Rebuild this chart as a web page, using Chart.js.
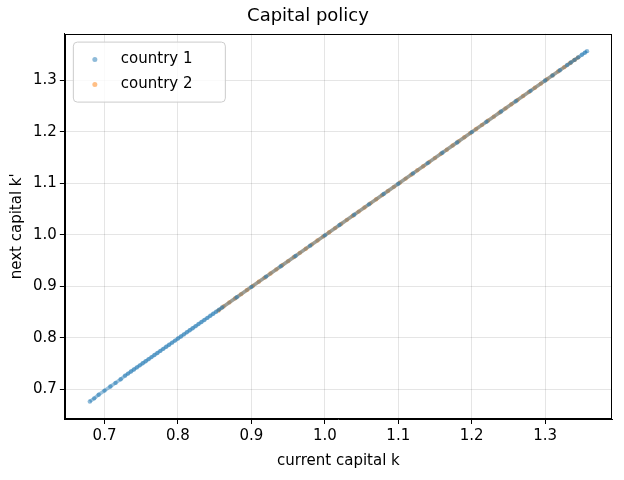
<!DOCTYPE html>
<html><head><meta charset="utf-8">
<script src="https://cdn.jsdelivr.net/npm/chart.js@4/dist/chart.umd.min.js"></script>
<style>html,body{margin:0;background:#fff}#w{width:624px;height:480px}</style>
</head><body><div id="w"><canvas id="c"></canvas></div>
<script>
const chartTitle = "Capital policy";
const xLabel = "current capital k";
const yLabel = "next capital k'";
const seriesNames = ["country 1", "country 2"];
const k1 = [0.680,0.686,0.692,0.700,0.708,0.715,0.722,0.728,0.732,0.736,0.740,0.744,0.748,0.752,0.756,0.760,0.764,0.768,0.772,0.776,0.780,0.784,0.788,0.792,0.796,0.800,0.804,0.808,0.812,0.816,0.820,0.824,0.828,0.832,0.836,0.840,0.844,0.848,0.852,0.856,0.860,0.880,0.900,0.920,0.940,0.960,0.980,1.000,1.020,1.040,1.060,1.080,1.100,1.120,1.140,1.160,1.180,1.200,1.220,1.240,1.260,1.280,1.300,1.310,1.320,1.330,1.335,1.340,1.345,1.350,1.354,1.357];
const kp1 = [0.677,0.683,0.690,0.698,0.706,0.713,0.720,0.727,0.731,0.735,0.739,0.743,0.747,0.751,0.755,0.759,0.763,0.767,0.771,0.775,0.779,0.783,0.787,0.791,0.795,0.799,0.803,0.807,0.811,0.815,0.819,0.823,0.827,0.831,0.835,0.839,0.843,0.847,0.851,0.855,0.859,0.879,0.899,0.919,0.939,0.959,0.979,0.999,1.019,1.039,1.059,1.079,1.099,1.119,1.139,1.159,1.179,1.199,1.219,1.239,1.259,1.279,1.299,1.309,1.319,1.329,1.334,1.339,1.344,1.349,1.353,1.356];
const k2 = [0.855,0.862,0.870,0.878,0.886,0.894,0.902,0.910,0.918,0.926,0.934,0.942,0.950,0.958,0.966,0.974,0.982,0.990,0.998,1.006,1.014,1.022,1.030,1.038,1.046,1.054,1.062,1.070,1.078,1.086,1.094,1.102,1.110,1.118,1.126,1.134,1.142,1.150,1.158,1.166,1.174,1.182,1.190,1.198,1.206,1.214,1.222,1.230,1.238,1.246,1.254,1.262,1.270,1.278,1.286,1.294,1.302,1.310,1.318,1.326,1.334,1.340,1.345];
const kp2 = [0.853,0.861,0.869,0.877,0.885,0.893,0.901,0.909,0.917,0.925,0.933,0.941,0.949,0.957,0.965,0.973,0.981,0.989,0.997,1.005,1.013,1.021,1.029,1.037,1.045,1.053,1.061,1.069,1.077,1.085,1.093,1.101,1.109,1.117,1.125,1.133,1.141,1.149,1.157,1.165,1.173,1.181,1.189,1.197,1.205,1.213,1.221,1.229,1.237,1.245,1.253,1.261,1.269,1.277,1.285,1.293,1.301,1.309,1.317,1.325,1.333,1.339,1.344];
const xTicks = [0.7,0.8,0.9,1.0,1.1,1.2,1.3];
const yTicks = [0.7,0.8,0.9,1.0,1.1,1.2,1.3];
const colors = ['rgba(31,119,180,0.5)','rgba(255,127,14,0.5)'];
const pts = (a,b)=>a.map((v,i)=>({x:v,y:b[i]}));
const F = "'DejaVu Sans'";
const deco = {id:'deco',afterDraw(ch){const a=ch.chartArea,c=ch.ctx;c.save();
c.strokeStyle='#000';c.lineWidth=1;c.strokeRect(Math.round(a.left)+0.5,Math.round(a.top)+0.5,Math.round(a.right-a.left)-1,Math.round(a.bottom-a.top)-1);
const x=a.left+8,y=a.top+8,w=152,h=60;
c.fillStyle='rgba(255,255,255,0.8)';c.strokeStyle='#ccc';c.beginPath();c.roundRect(x+0.5,y+0.5,w,h,4);c.fill();c.stroke();
c.font='15px '+F;c.textBaseline='middle';
seriesNames.forEach((n,i)=>{const yy=y+18+i*25;c.fillStyle=colors[i];c.beginPath();c.arc(x+22,yy,2.5,0,7);c.fill();c.fillStyle='#000';c.fillText(n,x+48,yy);});
c.restore();}};
new Chart(document.getElementById('c'),{type:'scatter',
data:{datasets:[
{label:seriesNames[0],data:pts(k1,kp1),backgroundColor:colors[0],borderColor:'rgba(31,119,180,0.45)',borderWidth:3.5,showLine:true,pointRadius:2.2,pointBorderWidth:0},
{label:seriesNames[1],data:pts(k2,kp2),backgroundColor:colors[1],borderColor:'rgba(255,127,14,0.5)',borderWidth:3.5,showLine:true,pointRadius:2.2,pointBorderWidth:0}]},
options:{responsive:true,maintainAspectRatio:false,animation:false,
layout:{padding:{left:4,right:12,top:0,bottom:6}},
plugins:{title:{display:true,text:chartTitle,font:{family:F,size:18,weight:'normal'},color:'#000',padding:{top:6,bottom:6}},
legend:{display:false},tooltip:{enabled:false}},
scales:{x:{type:'linear',min:0.646,max:1.391,afterBuildTicks:s=>{s.ticks=xTicks.map(v=>({value:v}))},
ticks:{callback:v=>v.toFixed(1),font:{family:F,size:15},color:'#000'},grid:{color:'rgba(0,0,0,0.1)',tickColor:'#000',tickLength:5},border:{color:'#000'},
title:{display:true,text:xLabel,font:{family:F,size:15},color:'#000'}},
y:{type:'linear',min:0.643,max:1.39,afterBuildTicks:s=>{s.ticks=yTicks.map(v=>({value:v}))},
ticks:{callback:v=>v.toFixed(1),font:{family:F,size:15},color:'#000'},grid:{color:'rgba(0,0,0,0.1)',tickColor:'#000',tickLength:5},border:{color:'#000'},
title:{display:true,text:yLabel,font:{family:F,size:15},color:'#000'}}}},
plugins:[deco]});
</script></body></html>
